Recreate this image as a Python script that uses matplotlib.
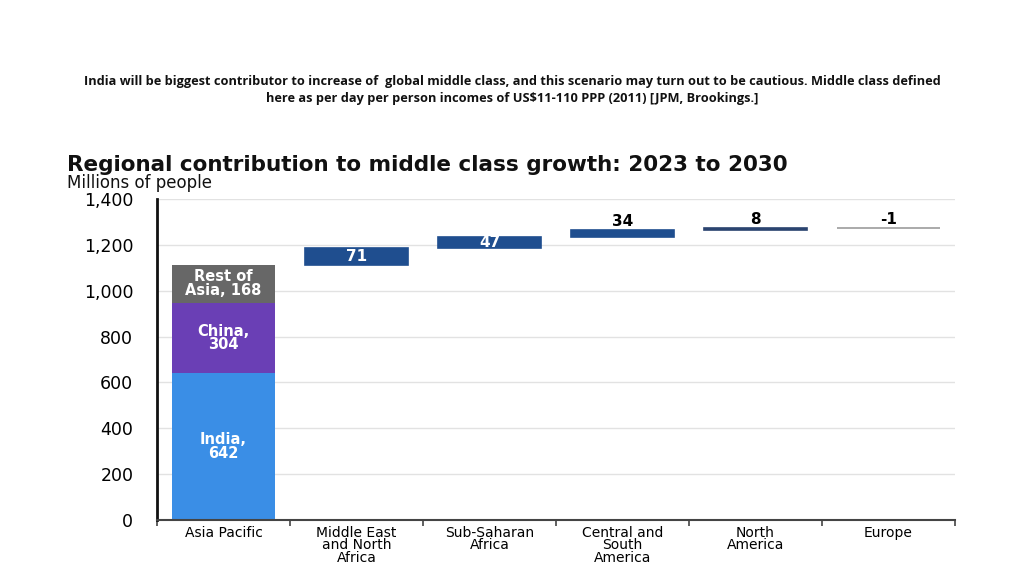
import matplotlib
matplotlib.use("Agg")
import matplotlib.pyplot as plt
import numpy as np

# data (millions of people, 2023 -> 2030)
categories = ["Asia Pacific", "Middle East\nand North\nAfrica", "Sub-Saharan\nAfrica",
              "Central and\nSouth\nAmerica", "North\nAmerica", "Europe"]
asia_labels = ["India,\n642", "China,\n304", "Rest of\nAsia, 168"]
asia_values = [642, 304, 168]
region_increments = [71, 47, 34, 8, -1]
yticks = [0, 200, 400, 600, 800, 1000, 1200, 1400]

asia_colors = ["#3a8ee6", "#6a3fb5", "#676767"]
wf_colors = ["#1f4e8f", "#1f4e8f", "#1f4e8f", "#2b4470", "#9c9c9c"]

slide_title = ("India will be biggest contributor to increase of  global middle class, and this "
               "scenario may turn out to be cautious. Middle class defined\nhere as per day per "
               "person incomes of US$11-110 PPP (2011) [JPM, Brookings.]")

fig = plt.figure(figsize=(10.24, 5.75), dpi=100)
ax = fig.add_axes([0.1533, 0.0957, 0.7793, 0.5583])

x = np.arange(len(categories))
width = 0.78

# stacked Asia Pacific bar
bottom = 0
for lab, val, col in zip(asia_labels, asia_values, asia_colors):
    ax.bar(x[0], val, width, bottom=bottom, color=col, zorder=2)
    ax.text(x[0], bottom + val / 2, lab, ha="center", va="center", color="white",
            fontsize=10.5, fontweight="bold", linespacing=0.9, zorder=3)
    bottom += val

# waterfall for the other regions
level = sum(asia_values)
for i, (inc, col) in enumerate(zip(region_increments, wf_colors), start=1):
    ax.bar(x[i], inc, width, bottom=level, color=col, edgecolor=col, linewidth=1.2, zorder=2)
    top = max(level, level + inc)
    if abs(inc) >= 40:
        ax.text(x[i], level + inc / 2, str(inc), ha="center", va="center",
                color="white", fontsize=11, fontweight="bold", zorder=3)
    else:
        ax.text(x[i], top + 4, str(inc), ha="center", va="bottom",
                color="black", fontsize=11, fontweight="bold", zorder=3)
    level += inc

ax.set_xlim(-0.5, len(categories) - 0.5)
ax.set_ylim(0, 1400)
ax.set_yticks(yticks)
ax.set_yticklabels([f"{v:,}" for v in yticks], fontsize=12.5)
ax.tick_params(axis="y", length=0, pad=17)
ax.set_xticks(x)
ax.set_xticklabels(categories, fontsize=10, linespacing=0.9)
ax.set_xticks(np.arange(len(categories) + 1) - 0.5, minor=True)
ax.tick_params(axis="x", which="major", length=0, pad=4)
ax.tick_params(axis="x", which="minor", length=4, width=1.2, color="#444444", direction="out")
ax.grid(axis="y", color="#e2e2e2", linewidth=1, zorder=0)
ax.set_axisbelow(True)
for s in ["top", "right"]:
    ax.spines[s].set_visible(False)
ax.spines["left"].set_linewidth(2)
ax.spines["left"].set_color("#111111")
ax.spines["bottom"].set_linewidth(1.5)
ax.spines["bottom"].set_color("#444444")

fig.text(0.0655, 1 - 171 / 575, "Regional contribution to middle class growth: 2023 to 2030",
         fontsize=15.5, fontweight="bold", ha="left", va="baseline", color="#111111")
fig.text(0.0655, 1 - 187.5 / 575, "Millions of people", fontsize=12, ha="left",
         va="baseline", color="#111111")
fig.text(0.5, 1 - 90 / 575, slide_title, fontsize=9.15, fontweight="bold", ha="center",
         va="center", family=["Open Sans", "DejaVu Sans"], linespacing=1.4, color="#111111")

fig.savefig("out.png", dpi=100)
